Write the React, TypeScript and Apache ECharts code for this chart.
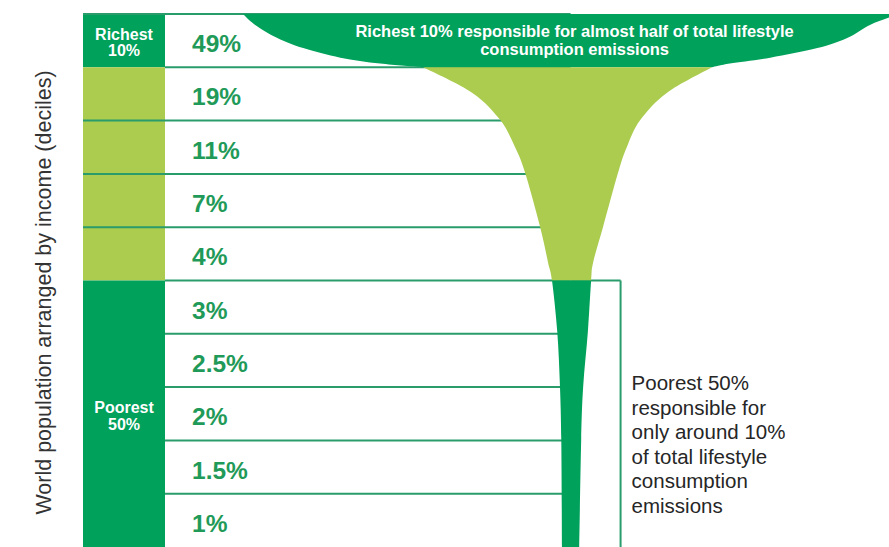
import React, { useEffect, useRef } from "react";
import * as echarts from "echarts";

// ---- data ----
const decileNames = ["10th", "9th", "8th", "7th", "6th", "5th", "4th", "3rd", "2nd", "1st"];
const emissionShares = [49, 19, 11, 7, 4, 3, 2.5, 2, 1.5, 1];
const groupLabels = ["Richest\n10%", "", "Poorest\n50%"];
const groupStart = [0, 1, 5];
const groupEnd = [1, 5, 10];

// champagne-glass outline: depth in deciles from the top, half-widths in % of emissions
const glassDepth = [0, 0.2, 0.45, 0.64, 0.82, 0.93, 1, 1.48, 1.99, 2.49, 2.96, 3.99, 4.66, 5, 5.97, 6.99, 7.98, 10];
const glassLeft = [49.4, 47.6, 44.2, 40.3, 34.7, 28.7, 22.2, 14.8, 10.6, 8.4, 6.9, 4.6, 3.4, 2.8, 2.0, 1.6, 1.4, 1.3];
const glassRight = [49.5, 45.2, 41.7, 37.2, 30.1, 24.0, 21.3, 14.5, 10.5, 8.5, 7.2, 4.9, 3.4, 3.1, 2.6, 1.9, 1.6, 1.3];

const axisTitle = "World population arranged by income (deciles)";
const richNote = "Richest 10% responsible for almost half of total lifestyle\nconsumption emissions";
const poorNote = "Poorest 50%\nresponsible for\nonly around 10%\nof total lifestyle\nconsumption\nemissions";

// ---- styles ----
const DARK = "#00a15b";
const LIGHT = "#abcc4f";
const LINE = "#2a9c6c";
const PCT = "#1f9a58";
const FONT = "'Liberation Sans', Arial, Helvetica, sans-serif";
const X_MIN = -73.5;
const X_MAX = 48;
const COL_W = 82;

function groupOf(i: number) {
  return groupStart.findIndex((s, k) => i >= s && i < groupEnd[k]);
}

function ctrl(P: number[][], lo: number, hi: number, j: number) {
  const p0 = P[Math.max(lo, j - 1)];
  const p1 = P[j];
  const p2 = P[j + 1];
  const p3 = P[Math.min(hi, j + 2)];
  return [
    [p1[0] + (p2[0] - p0[0]) / 6, p1[1] + (p2[1] - p0[1]) / 6],
    [p2[0] - (p3[0] - p1[0]) / 6, p2[1] - (p3[1] - p1[1]) / 6],
  ];
}
const pt = (p: number[]) => `${p[0].toFixed(2)} ${p[1].toFixed(2)}`;

export default function App() {
  const ref = useRef<HTMLDivElement>(null);
  useEffect(() => {
    document.body.style.margin = "0";
    const chart = echarts.init(ref.current!, undefined, { renderer: "svg" });

    const groupItem = (params: any, api: any) => {
      const g = api.value(0);
      const top = api.coord([X_MIN, groupStart[g]]);
      const bot = api.coord([X_MIN, groupEnd[g]]);
      const children: any[] = [
        { type: "rect", z2: 0, shape: { x: top[0], y: top[1], width: COL_W, height: bot[1] - top[1] }, style: { fill: g === 1 ? LIGHT : DARK } },
      ];
      if (groupLabels[g]) {
        children.push({
          type: "text", z2: 1,
          x: top[0] + COL_W / 2,
          y: (top[1] + bot[1]) / 2 + 2,
          style: { text: groupLabels[g], fill: "#ffffff", fontSize: 16, fontWeight: "bold", fontFamily: FONT, align: "center", verticalAlign: "middle", lineHeight: 16.5 },
        });
      }
      return { type: "group", children };
    };

    const rowItem = (params: any, api: any) => {
      const i = api.value(0);
      const v = api.value(1);
      const tl = api.coord([X_MIN, i]);
      const bl = api.coord([X_MIN, i + 1]);
      const c = api.coord([0, i]);
      const g = groupOf(i);
      // separator crosses the colour column only between two light cells
      const lineStart = i > 0 && groupOf(i - 1) === 1 && g === 1 ? tl[0] : tl[0] + COL_W;
      const children: any[] = [
        { type: "line", z2: 1, shape: { x1: lineStart, y1: tl[1], x2: c[0], y2: tl[1] }, style: { stroke: LINE, lineWidth: 2 } },
        {
          type: "text", z2: 2, x: tl[0] + 109, y: (tl[1] + bl[1]) / 2 + 3,
          style: { text: v + "%", fill: PCT, fontSize: 24.5, fontWeight: "bold", fontFamily: FONT, align: "left", verticalAlign: "middle" },
        },
      ];
      if (i === 0) {
        children.push({ type: "line", z2: 1, shape: { x1: tl[0], y1: tl[1], x2: tl[0] + COL_W, y2: tl[1] }, style: { stroke: LINE, lineWidth: 2 } });
      }
      if (i === groupStart[2]) {
        const bottom = api.coord([0, groupEnd[2]]);
        const bx = c[0] + 50;
        children.push({ type: "line", z2: 1, shape: { x1: c[0], y1: tl[1], x2: bx, y2: tl[1] }, style: { stroke: LINE, lineWidth: 2 } });
        children.push({ type: "line", z2: 1, shape: { x1: bx, y1: tl[1], x2: bx, y2: bottom[1] }, style: { stroke: LINE, lineWidth: 2 } });
      }
      return { type: "group", children };
    };

    const glassItem = (params: any, api: any) => {
      const g = api.value(0);
      const L = glassDepth.map((d, k) => api.coord([-glassLeft[k], d]));
      const R = glassDepth.map((d, k) => api.coord([glassRight[k], d]));
      const split = glassDepth.indexOf(1);
      const a = glassDepth.indexOf(groupStart[g]);
      const b = glassDepth.indexOf(groupEnd[g]);
      const lo = a < split ? 0 : split;
      const hi = a < split ? split : glassDepth.length - 1;
      let d = `M${pt(L[a])}`;
      for (let j = a; j < b; j++) {
        const [c1, c2] = ctrl(L, lo, hi, j);
        d += ` C${pt(c1)} ${pt(c2)} ${pt(L[j + 1])}`;
      }
      d += ` L${pt(R[b])}`;
      for (let j = b - 1; j >= a; j--) {
        const [c1, c2] = ctrl(R, lo, hi, j);
        d += ` C${pt(c2)} ${pt(c1)} ${pt(R[j])}`;
      }
      d += " Z";
      return { type: "path", shape: { pathData: d }, style: { fill: g === 1 ? LIGHT : DARK } };
    };

    const noteItem = (params: any, api: any) => {
      const n = api.value(0);
      if (n === 0) {
        const p = api.coord([0, 0.5]);
        return {
          type: "text", x: p[0] + 4, y: p[1] - 1,
          style: { text: richNote, fill: "#ffffff", fontSize: 16.5, fontWeight: "bold", fontFamily: FONT, align: "center", verticalAlign: "middle", lineHeight: 18 },
        };
      }
      const p = api.coord([0, 8]);
      return {
        type: "text", x: p[0] + 61, y: p[1] + 3.5,
        style: { text: poorNote, fill: "#262626", fontSize: 20.5, fontFamily: FONT, align: "left", verticalAlign: "middle", lineHeight: 24.5 },
      };
    };

    chart.setOption({
      animation: false,
      backgroundColor: "#ffffff",
      grid: { left: 83, right: 0, top: 14, height: 534 },
      xAxis: { type: "value", min: X_MIN, max: X_MAX, show: false },
      yAxis: {
        type: "value", min: 0, max: 10, inverse: true,
        name: axisTitle, nameLocation: "middle", nameGap: 28, nameRotate: 90,
        nameTextStyle: { fontSize: 21.5, color: "#333333", fontFamily: FONT, padding: [0, 24, 0, 0] },
        axisLine: { show: false }, axisTick: { show: false }, axisLabel: { show: false }, splitLine: { show: false },
      },
      series: [
        { type: "custom", name: "groups", z: 1, silent: true, renderItem: groupItem, data: groupLabels.map((_, g) => [g]) },
        { type: "custom", name: "deciles", z: 2, silent: true, renderItem: rowItem, data: emissionShares.map((v, i) => [i, v, decileNames[i]]) },
        { type: "custom", name: "glass", z: 4, silent: true, renderItem: glassItem, data: groupStart.map((_, g) => [g]) },
        { type: "custom", name: "notes", z: 5, silent: true, renderItem: noteItem, data: [[0], [1]] },
      ],
    });
    return () => chart.dispose();
  }, []);
  return <div ref={ref} style={{ width: 889, height: 547 }} />;
}
